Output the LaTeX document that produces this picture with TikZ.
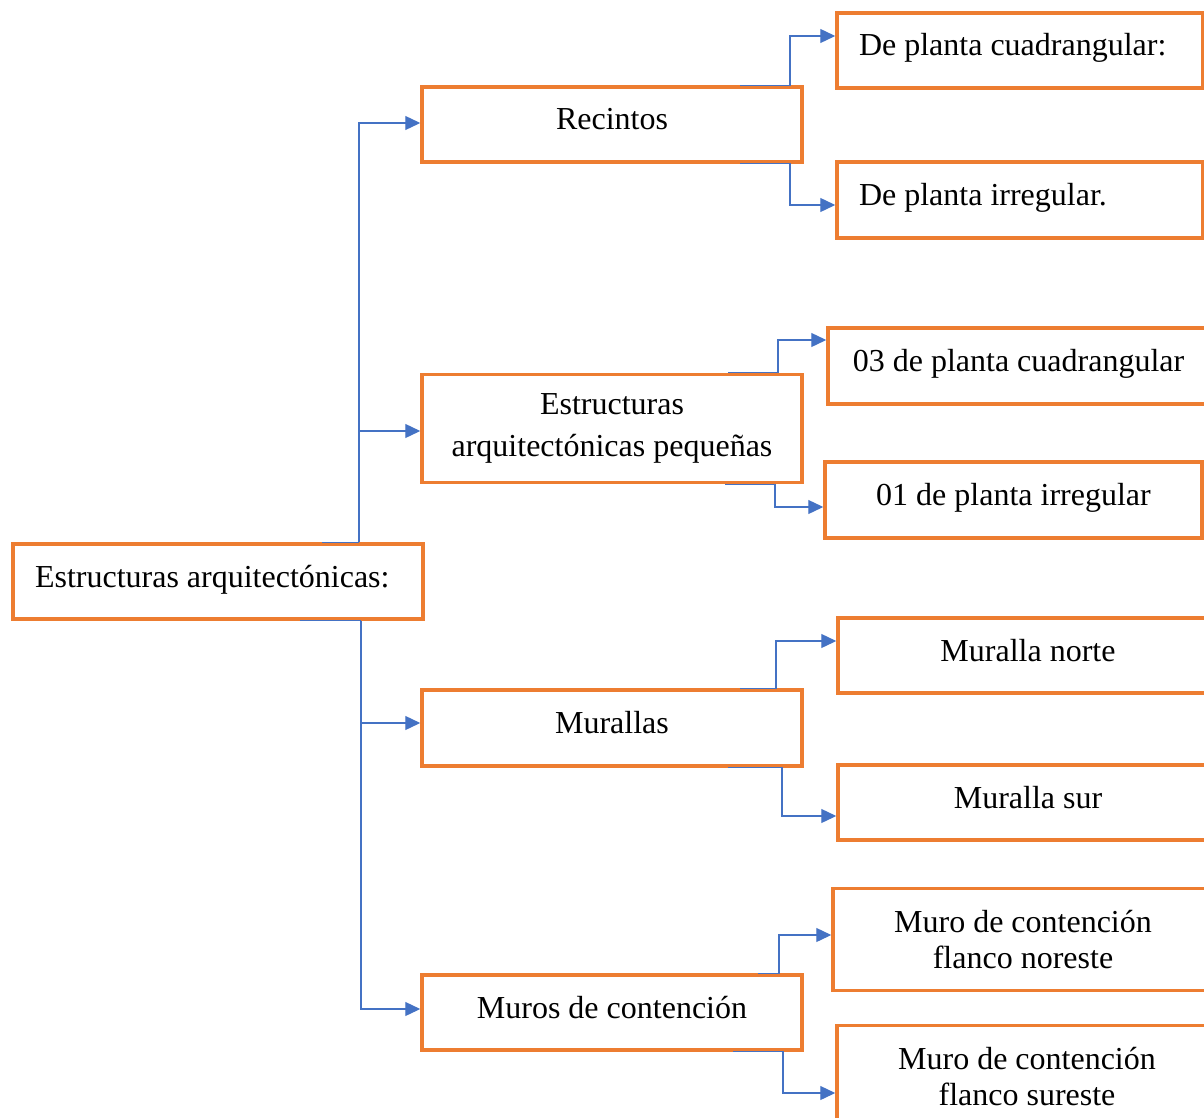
\documentclass[tikz,border=0pt]{standalone}
\usepackage{fontspec}
\setmainfont{Liberation Serif}
\usetikzlibrary{arrows.meta}
\definecolor{boxorange}{HTML}{ED7D31}
\definecolor{linkblue}{HTML}{4472C4}
\begin{document}
\begin{tikzpicture}[x=1pt,y=-1pt,
  box/.style={draw=boxorange, line width=3.5pt, fill=white, inner sep=0pt,
    font=\fontsize{32}{36}\selectfont, align=center},
  oneline/.style={text height=22pt, text depth=11pt},
  link/.style={draw=linkblue, line width=1.3pt,
    -{Triangle[length=15pt,width=14pt]}},
  plain/.style={draw=linkblue, line width=1.3pt}]
\useasboundingbox (0,0) rectangle (1204,1118);
\begin{scope}
\clip (0,0) rectangle (1204,1118);
% left column
\node[box, oneline, minimum width=410pt, minimum height=75pt, text width=366pt, align=flush left] (root) at (218,581.5) {Estructuras arquitectónicas:};
% middle column
\node[box, oneline, minimum width=380pt, minimum height=75pt] (rec) at (612,124.5) {Recintos};
\node[box, minimum width=380pt, minimum height=108pt, font=\fontsize{32}{42}\selectfont] (est) at (612,428.5) {Estructuras\\arquitectónicas pequeñas};
\node[box, oneline, minimum width=380pt, minimum height=76pt] (mur) at (612,728) {Murallas};
\node[box, oneline, minimum width=380pt, minimum height=75pt] (mco) at (612,1012.5) {Muros de contención};
% right column
\node[box, oneline, minimum width=366pt, minimum height=75pt, text width=322pt, align=flush left] (c1) at (1020,50.5) {De planta cuadrangular:};
\node[box, oneline, minimum width=366pt, minimum height=76pt, text width=322pt, align=flush left] (c2) at (1020,200) {De planta irregular.};
\node[box, oneline, minimum width=381pt, minimum height=76pt] (c3) at (1018.5,366) {03 de planta cuadrangular};
\node[box, oneline, minimum width=377pt, minimum height=76pt] (c4) at (1013.5,500) {01 de planta irregular};
\node[box, oneline, minimum width=380pt, minimum height=75pt] (c5) at (1028,655.5) {Muralla norte};
\node[box, oneline, minimum width=380pt, minimum height=75pt] (c6) at (1028,802.5) {Muralla sur};
\node[box, minimum width=380pt, minimum height=102pt] (c7) at (1023,939.5) {Muro de contención\\flanco noreste};
\node[box, minimum width=380pt, minimum height=102pt] (c8) at (1027,1076.5) {Muro de contención\\flanco sureste};
% connectors from root
\draw[plain] (root.north -| 322,0) -- (root.north -| 359,0) coordinate (ja);
\draw[link] (ja) |- ([yshift=1.5pt]rec.west);
\draw[link] (ja |- 0,431) -- ([yshift=-2.5pt]est.west);
\draw[plain] (root.south -| 300,0) -- (root.south -| 361,0) coordinate (jb);
\draw[link] (jb) |- ([yshift=3.5pt]mco.west);
\draw[link] (jb |- 0,723) -- ([yshift=5pt]mur.west);
% connectors from middle boxes
\draw[link] (rec.north -| 740,0) -- (rec.north -| 790,0) |- ([yshift=14.5pt]c1.west);
\draw[link] (rec.south -| 740,0) -- (rec.south -| 790,0) |- ([yshift=-5pt]c2.west);
\draw[link] (est.north -| 728,0) -- (est.north -| 778,0) |- ([yshift=26pt]c3.west);
\draw[link] (est.south -| 725,0) -- (est.south -| 775,0) |- ([yshift=-7pt]c4.west);
\draw[link] (mur.north -| 740,0) -- (mur.north -| 776,0) |- ([yshift=14.5pt]c5.west);
\draw[link] (mur.south -| 728,0) -- (mur.south -| 782,0) |- ([yshift=-13.5pt]c6.west);
\draw[link] (mco.north -| 758,0) -- (mco.north -| 779,0) |- ([yshift=4.5pt]c7.west);
\draw[link] (mco.south -| 733,0) -- (mco.south -| 783,0) |- ([yshift=-16.5pt]c8.west);
\end{scope}
\end{tikzpicture}
\end{document}
